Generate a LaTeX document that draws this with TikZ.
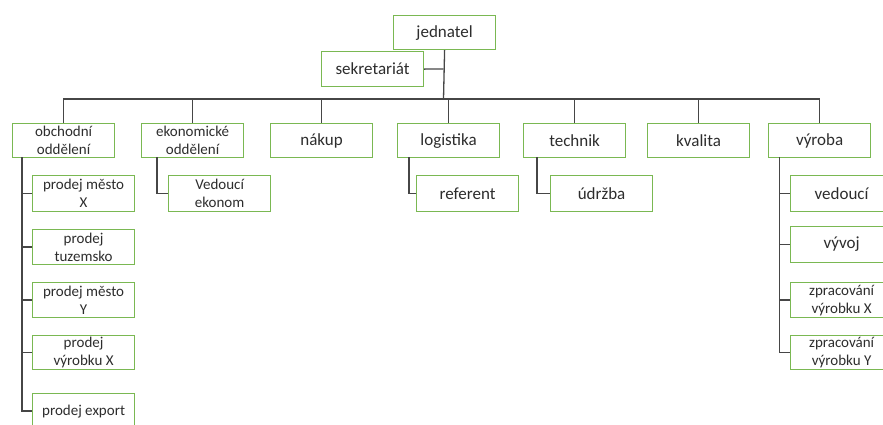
\documentclass[tikz,border=0pt]{standalone}
\usepackage{fontspec}
\setmainfont{Carlito}
\usetikzlibrary{calc}
\definecolor{boxgreen}{RGB}{122,184,82}
\definecolor{linegray}{RGB}{70,70,70}
\definecolor{txtgray}{RGB}{45,45,45}
\tikzset{
  box/.style={draw=boxgreen, line width=1.2pt, fill=white, anchor=north west,
    minimum width=102pt, minimum height=35pt, inner sep=0pt, align=center,
    text=txtgray, font=\fontsize{15}{18}\selectfont},
  big/.style={font=\fontsize{17}{20}\selectfont},
  conn/.style={draw=linegray, line width=1.3pt}
}
\begin{document}
\begin{tikzpicture}[x=1pt,y=-1pt]
\useasboundingbox (0,0) rectangle (883,424);
\clip (0,0) rectangle (883,424);
% top
\node[box, big, minimum height=34pt] (jed) at (393,15) {jednatel};
\node[box, big] (sek) at (321,51) {sekretariát};
% departments
\node[box, minimum height=34pt] (obch) at (12,123) {obchodní\\oddělení};
\node[box, minimum height=34pt] (eko) at (141,123) {ekonomické\\oddělení};
\node[box, big, minimum height=34pt] (nak) at (270,123) {nákup};
\node[box, big, minimum height=34pt] (log) at (397,123) {logistika};
\node[box, big, minimum height=34pt] (tech) at (523,123) {technik};
\node[box, big, minimum height=34pt] (kval) at (647,123) {kvalita};
\node[box, big, minimum height=34pt] (vyr) at (768,123) {výroba};
% children of obchodní
\node[box, minimum height=36pt] (pmx) at (32,175) {prodej město\\X};
\node[box] (ptu) at (32,229) {prodej\\tuzemsko};
\node[box] (pmy) at (32,282) {prodej město\\Y};
\node[box, minimum height=34pt] (pvx) at (32,335) {prodej\\výrobku X};
\node[box] (pex) at (32,393) {prodej export};
% other children
\node[box, minimum height=36pt] (ved) at (168,175) {Vedoucí\\ekonom};
\node[box, big, minimum height=36pt] (ref) at (416,175) {referent};
\node[box, big, minimum height=36pt] (udr) at (550,175) {údržba};
% výroba children
\node[box, big, minimum height=36pt] (vvd) at (790,175) {vedoucí};
\node[box, big, minimum height=36pt] (vyv) at (790,226) {vývoj};
\node[box] (zpx) at (790,282) {zpracování\\výrobku X};
\node[box, minimum height=34pt] (zpy) at (790,335) {zpracování\\výrobku Y};
% connectors
\coordinate (bus) at (443.5,99);
\coordinate (sekj) at (443.5,69);
\draw[conn] (jed.south) -- (bus);
\draw[conn] (sek.east) -- (sekj);
\foreach \d in {obch,eko,nak,log,tech,kval,vyr}{
  \draw[conn] (bus) -| (\d.north);
}
\coordinate (obchs) at (22,157);
\foreach \c in {pmx,ptu,pmy,pvx,pex}{
  \draw[conn] (obchs) |- (\c.west);
}
\coordinate (ekos) at (157,157);
\draw[conn] (ekos) |- (ved.west);
\coordinate (logs) at (409,157);
\draw[conn] (logs) |- (ref.west);
\coordinate (techs) at (537,157);
\draw[conn] (techs) |- (udr.west);
\coordinate (vyrs) at (779.5,157);
\foreach \c in {vvd,vyv,zpx,zpy}{
  \draw[conn] (vyrs) |- (\c.west);
}
\end{tikzpicture}
\end{document}
